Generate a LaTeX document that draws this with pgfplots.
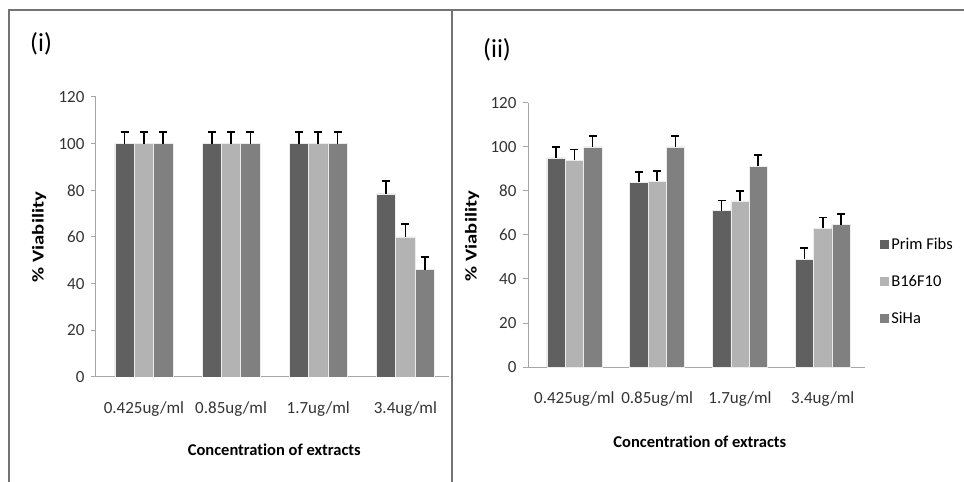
\documentclass[border=0pt]{standalone}
\usepackage{pgfplots}
\pgfplotsset{compat=1.18}
\usepackage{pgfplotstable}
\usepackage{fontspec}
\setmainfont[Ligatures=NoCommon]{Carlito}
\newfontfamily\ylabfont[FakeStretch=1.25, Ligatures=NoCommon]{Carlito}
\definecolor{cA}{HTML}{606060}
\definecolor{cB}{HTML}{B3B3B3}
\definecolor{cC}{HTML}{808080}
\definecolor{axgray}{HTML}{A6A6A6}

\pgfplotstableread{
x y e
0 100 5
1 100 5
2 100 5
3 78.5 5.5
}\LA
\pgfplotstableread{
x y e
0 100 5
1 100 5
2 100 5
3 60 5.5
}\LB
\pgfplotstableread{
x y e
0 100 5
1 100 5
2 100 5
3 46 5.3
}\LC
\pgfplotstableread{
x y e
0 95 5
1 84 4.7
2 71 4.7
3 49 5
}\RA
\pgfplotstableread{
x y e
0 94 4.8
1 84.5 4.7
2 75.5 4.6
3 63 5
}\RB
\pgfplotstableread{
x y e
0 100 5
1 100 5
2 91.3 5
3 64.7 4.8
}\RC

\pgfplotsset{
  mybars/.style={
    scale only axis,
    ybar=0pt,
    ymin=0, ymax=120,
    ytick={0,20,...,120},
    xtick={0,1,2,3},
    xticklabels={0.425ug/ml,0.85ug/ml,1.7ug/ml,3.4ug/ml},
    axis x line*=bottom,
    axis y line*=left,
    axis line style={axgray, line width=1pt},
    x axis line style={-},
    y axis line style={-},
    xtick style={draw=none},
    ytick style={axgray, line width=1pt},
    tick align=outside,
    major tick length=5pt,
    /pgf/number format/assume math mode=true,
    tick label style={font=\fontsize{17}{20}\selectfont, text=black!80},
    yticklabel style={xshift=-3pt},
    xticklabel style={yshift=-16pt},
    xlabel style={font=\fontsize{16.5}{20}\selectfont\bfseries},
    ylabel style={font=\ylabfont\fontsize{16.5}{20}\selectfont\bfseries},
    error bars/y dir=plus,
    error bars/y explicit,
    error bars/error bar style={black, line width=1.6pt},
    error bars/error mark options={rotate=90, mark size=4pt, line width=1.6pt, black},
    legend image code/.code={\fill[##1, draw=none] (0pt,-4.5pt) rectangle (9pt,4.5pt);},
  }
}

\begin{document}
\begin{tikzpicture}[x=1pt,y=1pt]
\useasboundingbox (0,0) rectangle (964,482);

\begin{axis}[mybars,
  at={(96pt,105pt)}, anchor=south west,
  width=353pt, height=280pt,
  xmin=-0.55, xmax=3.5,
  bar width=19.3pt,
  ylabel={\% Viability},
  xlabel={Concentration of extracts},
  ylabel style={at={(axis description cs:-0.161,0.5)}, anchor=center},
  xlabel style={at={(axis description cs:0.505,-0.26)}, anchor=center},
]
\addplot[fill=cA, draw=white!85!gray, line width=0.6pt] table[x=x,y=y,y error=e]{\LA};
\addplot[fill=cB, draw=white!85!gray, line width=0.6pt] table[x=x,y=y,y error=e]{\LB};
\addplot[fill=cC, draw=white!85!gray, line width=0.6pt] table[x=x,y=y,y error=e]{\LC};
\end{axis}

\begin{axis}[mybars,
  at={(528pt,115pt)}, anchor=south west,
  width=337pt, height=264pt,
  xmin=-0.56, xmax=3.51,
  bar width=18.3pt,
  ylabel={\% Viability},
  xlabel={Concentration of extracts},
  ylabel style={at={(axis description cs:-0.166,0.496)}, anchor=center},
  xlabel style={at={(axis description cs:0.51,-0.284)}, anchor=center},
  legend style={at={(axis description cs:1.045,0.495)}, anchor=north west, draw=none, fill=none,
    font=\fontsize{16.5}{20}\selectfont, row sep=20pt, inner sep=0pt,
    /tikz/every even column/.append style={column sep=0pt}},
  legend cell align=left,
]
\addplot[fill=cA, draw=white!85!gray, line width=0.6pt] table[x=x,y=y,y error=e]{\RA};
\addplot[fill=cB, draw=white!85!gray, line width=0.6pt] table[x=x,y=y,y error=e]{\RB};
\addplot[fill=cC, draw=white!85!gray, line width=0.6pt] table[x=x,y=y,y error=e]{\RC};
\legend{Prim Fibs,B16F10,SiHa}
\end{axis}

\node[anchor=west, font=\fontsize{26}{30}\selectfont, inner sep=0pt] at (30,438) {(i)};
\node[anchor=west, font=\fontsize{26}{30}\selectfont, inner sep=0pt] at (483,432) {(ii)};

\draw[black!55, line width=1.5pt] (9,0) -- (9,472) -- (964,472);
\draw[black!55, line width=1.5pt] (452,0) -- (452,472);
\end{tikzpicture}
\end{document}
